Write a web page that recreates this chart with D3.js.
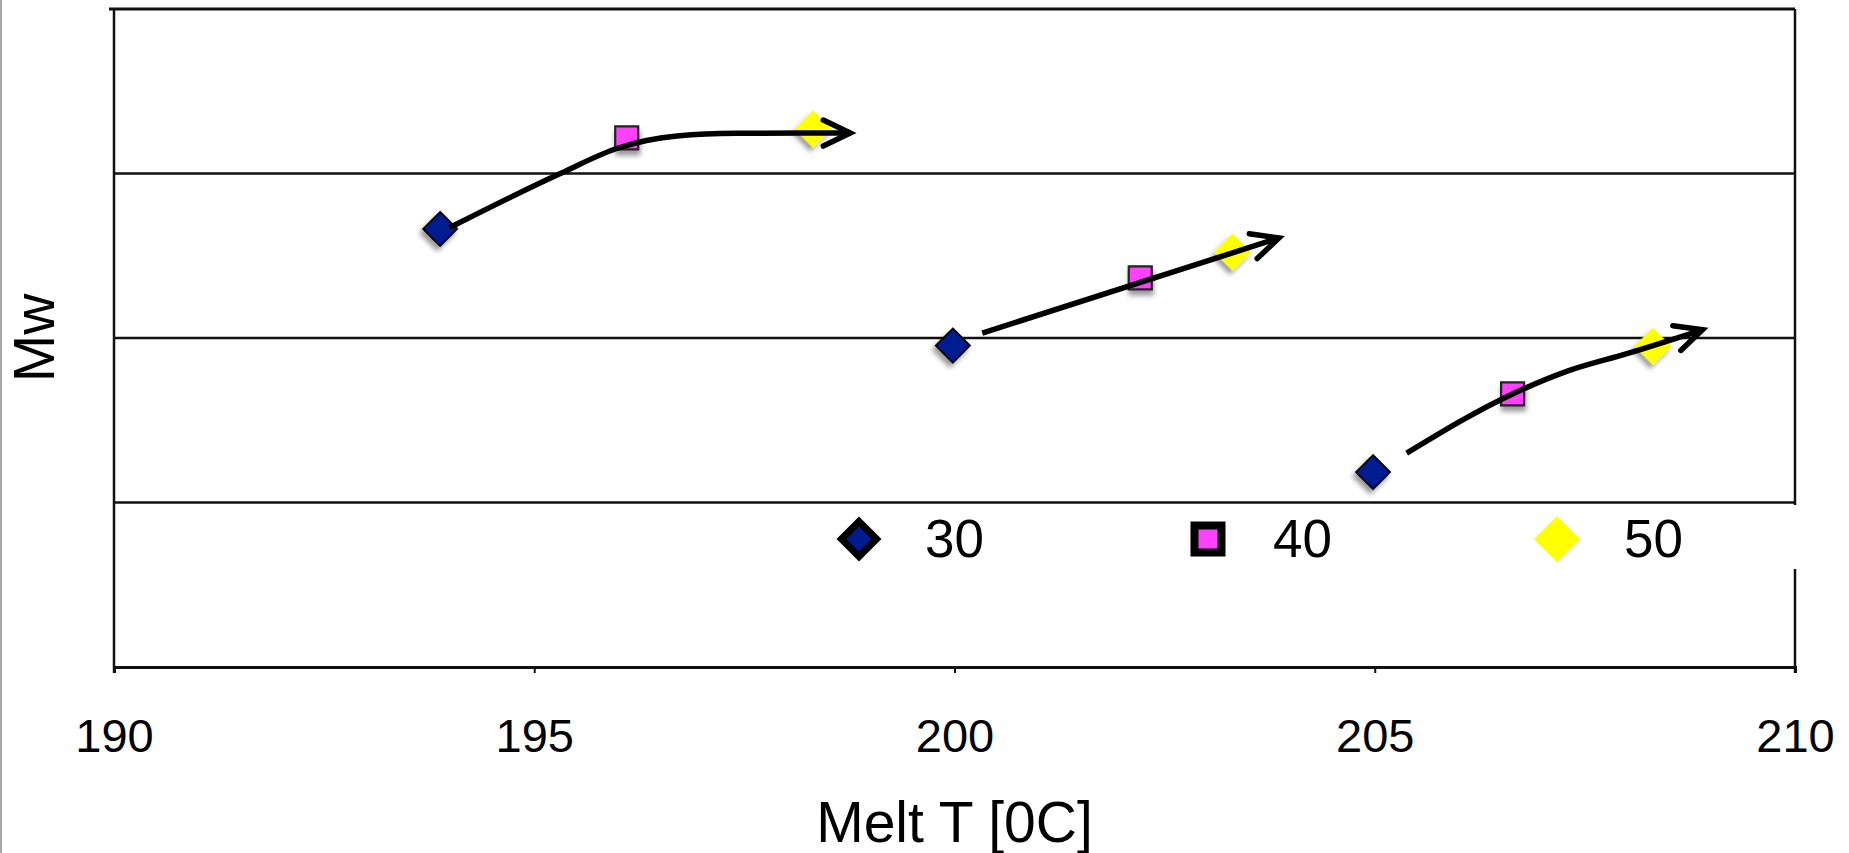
<!DOCTYPE html>
<html>
<head>
<meta charset="UTF-8">
<title>Mw vs Melt T</title>
<script src="https://d3js.org/d3.v7.min.js"></script>
<style>
  body { margin:0; overflow:hidden; background:#fff; }
  svg { display:block; }
  text { font-family: "Liberation Sans", Arial, sans-serif; fill:#000; }
</style>
</head>
<body>
<svg id="chart" width="1849" height="853"></svg>
<script>
// series: melt temperature vs Mw (no Mw scale printed, unit = one grid band)
const series = ['30', '40', '50'];
const temps30 = [193.88, 199.98, 204.98];
const mw30    = [2.663, 1.954, 1.185];
const temps40 = [196.10, 202.21, 206.64];
const mw40    = [3.216, 2.365, 1.660];
const temps50 = [198.32, 203.31, 208.31];
const mw50    = [3.271, 2.523, 1.951];

// trend arrows, one per group
const arrow1 = [[193.99, 2.67], [195.31, 3.0], [196.0, 3.155], [196.7, 3.228], [197.4, 3.244], [198.76, 3.246]];
const arrow2 = [[200.33, 2.03], [203.86, 2.608]];
const arrow3 = [[205.38, 1.30], [206.64, 1.66], [207.3, 1.80], [208.0, 1.905], [208.9, 2.05]];

const xTicks = [190, 195, 200, 205, 210];
const yGrid = [1, 2, 3];

const W = 1849, H = 853;
const mLeft = 114, mRight = 1795, mTop = 9, mBottom = 667;

const x = d3.scaleLinear().domain([190, 210]).range([mLeft, mRight]);
const y = d3.scaleLinear().domain([0, 4]).range([mBottom, mTop]);

const svg = d3.select('#chart');
const defs = svg.append('defs');

const shadow = defs.append('filter').attr('id', 'shadow')
  .attr('x', '-50%').attr('y', '-50%').attr('width', '200%').attr('height', '200%');
shadow.append('feDropShadow')
  .attr('dx', 1).attr('dy', 5).attr('stdDeviation', 2.5)
  .attr('flood-color', '#000').attr('flood-opacity', 0.4);

defs.append('marker').attr('id', 'head')
  .attr('markerUnits', 'userSpaceOnUse')
  .attr('viewBox', '-36 -20 44 40')
  .attr('refX', 0).attr('refY', 0)
  .attr('markerWidth', 44).attr('markerHeight', 40)
  .attr('orient', 'auto')
  .append('path')
  .attr('d', 'M-27,-13L0,0L-27,13')
  .attr('fill', 'none').attr('stroke', '#000')
  .attr('stroke-width', 5.5)
  .attr('stroke-linecap', 'round')
  .attr('stroke-linejoin', 'miter');

// page edge
svg.append('line').attr('x1', 1).attr('x2', 1).attr('y1', 0).attr('y2', H)
  .attr('stroke', '#888').attr('stroke-width', 1.5);

// grid lines
svg.append('g').selectAll('line').data(yGrid).join('line')
  .attr('x1', mLeft).attr('x2', mRight)
  .attr('y1', d => y(d)).attr('y2', d => y(d))
  .attr('stroke', '#111').attr('stroke-width', 2.5);

// top frame line with small tick
svg.append('line').attr('x1', mLeft - 5).attr('x2', mRight)
  .attr('y1', y(4)).attr('y2', y(4))
  .attr('stroke', '#111').attr('stroke-width', 3);

// right frame
svg.append('line').attr('x1', mRight).attr('x2', mRight)
  .attr('y1', y(4)).attr('y2', mBottom + 6)
  .attr('stroke', '#111').attr('stroke-width', 2.5);

// y axis
svg.append('line').attr('x1', mLeft).attr('x2', mLeft)
  .attr('y1', y(4) - 1).attr('y2', mBottom + 6)
  .attr('stroke', '#111').attr('stroke-width', 2.5);

// x axis
const xAxis = svg.append('g').attr('transform', `translate(0,${mBottom})`)
  .call(d3.axisBottom(x).tickValues(xTicks).tickSize(6).tickPadding(36).tickFormat(d3.format('d')));
xAxis.select('.domain').attr('stroke', '#111').attr('stroke-width', 3);
xAxis.selectAll('.tick line').attr('stroke', '#111').attr('stroke-width', 2);
xAxis.selectAll('.tick text')
  .attr('font-size', 47).attr('font-family', '"Liberation Sans", Arial, sans-serif')
  .attr('fill', '#000').attr('dy', 0).attr('y', 752 - mBottom);

// axis titles
svg.append('text').attr('x', (mLeft + mRight) / 2).attr('y', 842)
  .attr('text-anchor', 'middle').attr('font-size', 57).text('Melt T [0C]');
svg.append('text')
  .attr('transform', `translate(54,${(mTop + mBottom) / 2}) rotate(-90)`)
  .attr('text-anchor', 'middle').attr('font-size', 57).text('Mw');

// markers
const styles = {
  '30': { shape: d3.symbolSquare, rot: 45, size: 576, fill: '#001A90', stroke: '#000', sw: 1.8,
          lsize: 615, lsw: 7, lx: 859, tx: 925 },
  '40': { shape: d3.symbolSquare, rot: 0, size: 529, fill: '#FF40FF', stroke: '#222', sw: 2.2,
          lsize: 729, lsw: 8, lx: 1208, tx: 1273 },
  '50': { shape: d3.symbolSquare, rot: 45, size: 690, fill: '#FFFF00', stroke: 'none', sw: 0,
          lsize: 1056, lsw: 0, lx: 1557, tx: 1624 }
};
const pts = {
  '30': d3.zip(temps30, mw30),
  '40': d3.zip(temps40, mw40),
  '50': d3.zip(temps50, mw50)
};

const markG = svg.append('g');
series.forEach(s => {
  const st = styles[s];
  markG.append('g').selectAll('path').data(pts[s]).join('path')
    .attr('d', d3.symbol(st.shape, st.size))
    .attr('transform', d => `translate(${x(d[0])},${y(d[1])}) rotate(${st.rot})`)
    .attr('fill', st.fill).attr('stroke', st.stroke).attr('stroke-width', st.sw)
    .attr('filter', 'url(#shadow)');
});

// arrows
const line = d3.line().x(d => x(d[0])).y(d => y(d[1])).curve(d3.curveMonotoneX);
svg.append('g').selectAll('path').data([arrow1, arrow2, arrow3]).join('path')
  .attr('d', line)
  .attr('fill', 'none').attr('stroke', '#000').attr('stroke-width', 5.5)
  .attr('marker-end', 'url(#head)');

// legend
const legY = 539;
svg.append('rect').attr('x', 822).attr('y', 505).attr('width', 980).attr('height', 64)
  .attr('fill', '#fff');
const leg = svg.append('g');
series.forEach(s => {
  const st = styles[s];
  leg.append('path')
    .attr('d', d3.symbol(st.shape, st.lsize))
    .attr('transform', `translate(${st.lx},${legY}) rotate(${st.rot})`)
    .attr('fill', st.fill)
    .attr('stroke', st.lsw ? '#000' : 'none').attr('stroke-width', st.lsw);
  leg.append('text').attr('x', st.tx).attr('y', 557).attr('font-size', 53).text(s);
});
</script>
</body>
</html>
